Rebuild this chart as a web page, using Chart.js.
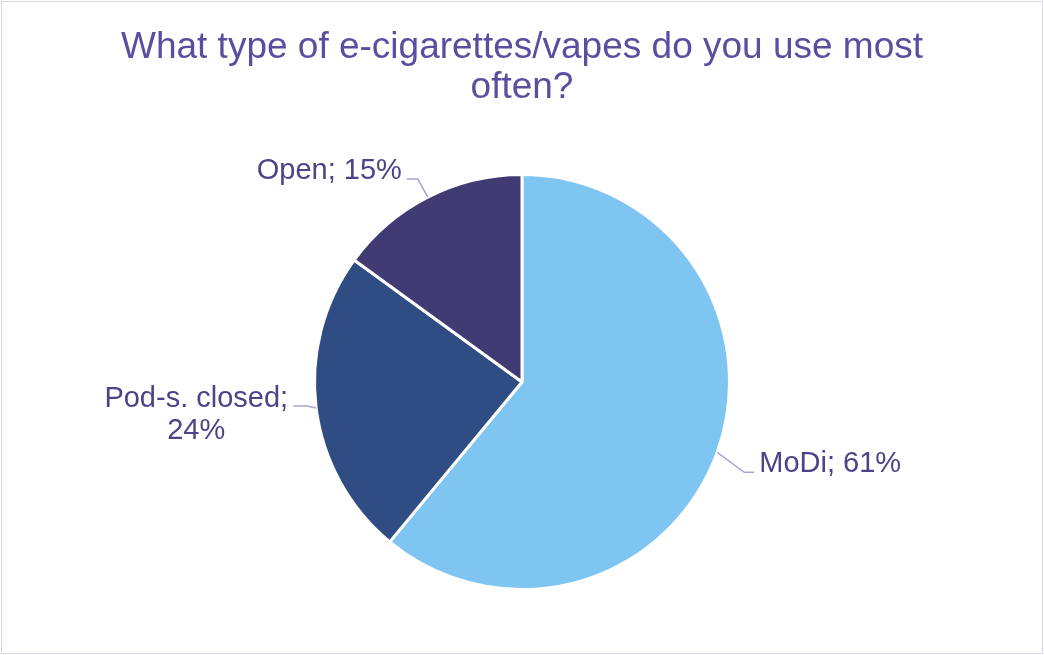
<!DOCTYPE html>
<html>
<head>
<meta charset="utf-8">
<style>
  html, body { margin: 0; padding: 0; background: #fff; }
  #wrap { width: 1044px; height: 655px; position: relative; }
</style>
<script src="https://cdn.jsdelivr.net/npm/chart.js@4.4.1/dist/chart.umd.min.js"></script>
</head>
<body>
<div id="wrap"><canvas id="pie" width="1044" height="655"></canvas></div>
<script>
// data
const categories = ['MoDi', 'Pod-s. closed', 'Open'];
const shares = [61, 24, 15];
const titleLines = ['What type of e-cigarettes/vapes do you use most', 'often?'];

const sliceColors = ['#7ec5f2', '#2f4c83', '#403b73'];
const TEXT = '#4b4488';
const TITLE = '#5a4ea0';
const LEADER = '#aaa4d2';

/* ---------- label placement (per slice, relative to slice mid-point on the rim) ---------- */
const labelStyle = [
  { elbow: [27, 20], run: 10, align: 'left', lines: (c, v) => [`${c}; ${v}%`] },
  { elbow: [-9, -2], run: -14, align: 'center', lines: (c, v) => [`${c};`, `${v}%`] },
  { elbow: [-10, -18], run: -11, align: 'right', lines: (c, v) => [`${c}; ${v}%`] }
];

const frame = {
  id: 'frame',
  beforeDraw(chart) {
    const { ctx, width, height } = chart;
    ctx.save();
    ctx.fillStyle = '#fff';
    ctx.fillRect(0, 0, width, height);
    ctx.strokeStyle = '#d9d5ea';
    ctx.lineWidth = 1;
    ctx.strokeRect(1.5, 1.5, width - 3, height - 3);
    ctx.restore();
  }
};

const outsideLabels = {
  id: 'outsideLabels',
  afterDatasetsDraw(chart) {
    const { ctx } = chart;
    const meta = chart.getDatasetMeta(0);
    ctx.save();
    ctx.font = '29px "Liberation Sans", Arial, sans-serif';
    ctx.textBaseline = 'alphabetic';
    meta.data.forEach((arc, i) => {
      const p = arc.getProps(['x', 'y', 'startAngle', 'endAngle', 'outerRadius'], true);
      const mid = (p.startAngle + p.endAngle) / 2;
      const ax = p.x + Math.cos(mid) * p.outerRadius;
      const ay = p.y + Math.sin(mid) * p.outerRadius;
      const st = labelStyle[i];
      const ex = ax + st.elbow[0], ey = ay + st.elbow[1];
      const tx = ex + st.run;

      ctx.strokeStyle = LEADER;
      ctx.lineWidth = 1.5;
      ctx.beginPath();
      ctx.moveTo(ax, ay); ctx.lineTo(ex, ey); ctx.lineTo(tx, ey);
      ctx.stroke();

      const lines = st.lines(categories[i], shares[i]);
      ctx.fillStyle = TEXT;
      const gap = 5;
      if (st.align === 'left') {
        ctx.textAlign = 'left';
        lines.forEach((l, k) => ctx.fillText(l, tx + gap, ey + k * 32));
      } else if (st.align === 'right') {
        ctx.textAlign = 'right';
        lines.forEach((l, k) => ctx.fillText(l, tx - gap, ey + k * 32));
      } else {
        const w = Math.max(...lines.map(l => ctx.measureText(l).width));
        const cx = tx - gap - w / 2;
        ctx.textAlign = 'center';
        lines.forEach((l, k) => ctx.fillText(l, cx, ey + 1 + k * 32));
      }
    });
    ctx.restore();
  }
};

new Chart(document.getElementById('pie'), {
  type: 'pie',
  data: {
    labels: categories,
    datasets: [{
      data: shares,
      backgroundColor: sliceColors,
      borderColor: '#ffffff',
      borderWidth: 3
    }]
  },
  options: {
    responsive: false,
    animation: false,
    layout: { padding: { top: 0, bottom: 64, left: 100, right: 100 } },
    plugins: {
      legend: { display: false },
      tooltip: { enabled: false },
      title: {
        display: true,
        text: titleLines,
        color: TITLE,
        font: { family: '"Liberation Sans", Arial, sans-serif', size: 37, weight: 'normal', lineHeight: 40 / 37 },
        padding: { top: 28, bottom: 65 }
      }
    }
  },
  plugins: [frame, outsideLabels]
});
</script>
</body>
</html>
